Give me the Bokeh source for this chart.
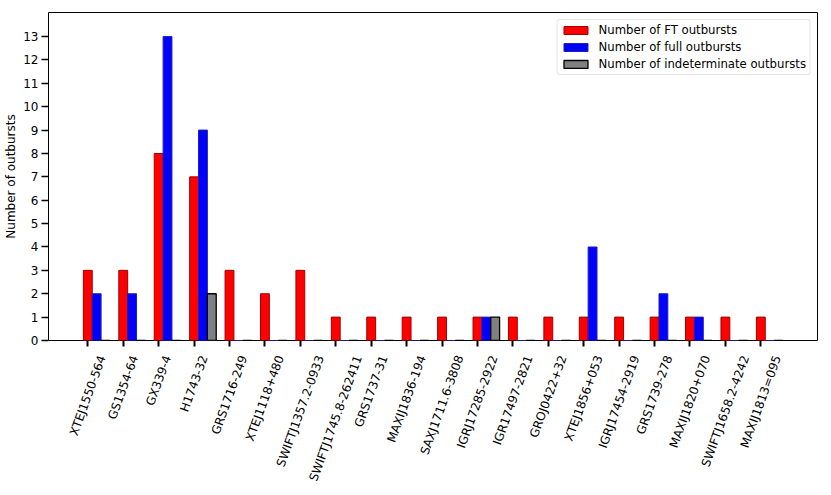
import math
from bokeh.plotting import figure
from bokeh.layouts import column
from bokeh.models import ColumnDataSource, Range1d, FixedTicker
from bokeh.core.properties import value
from bokeh.transform import dodge
from bokeh.embed import file_html
from bokeh.resources import INLINE

sources = ["XTEJ1550-564", "GS1354-64", "GX339-4", "H1743-32", "GRS1716-249",
           "XTEJ1118+480", "SWIFTJ1357.2-0933", "SWIFTJ1745.8-262411", "GRS1737-31",
           "MAXIJ1836-194", "SAXJ1711.6-3808", "IGRJ17285-2922", "IGR17497-2821",
           "GROJ0422+32", "XTEJ1856+053", "IGRJ17454-2919", "GRS1739-278",
           "MAXIJ1820+070", "SWIFTJ1658.2-4242", "MAXIJ1813=095"]
ft_outbursts = [3, 3, 8, 7, 3, 2, 3, 1, 1, 1, 1, 1, 1, 1, 1, 1, 1, 1, 1, 1]
full_outbursts = [2, 2, 13, 9, 0, 0, 0, 0, 0, 0, 0, 1, 0, 0, 4, 0, 2, 1, 0, 0]
indet_outbursts = [0, 0, 0, 2, 0, 0, 0, 0, 0, 0, 0, 1, 0, 0, 0, 0, 0, 0, 0, 0]
y_ticks = list(range(14))

FONT = "DejaVu Sans"
FS = 12.0
ROT = math.radians(70)
W = 823
LEFT, RIGHT = 48, 6
BOT = 8
XR = (-1.11, 20.6)

# approximate DejaVu Sans advance widths (em), used to centre the rotated
# category labels under their ticks the way matplotlib does (ha="center")
_w = {"A": .684, "E": .632, "F": .575, "G": .775, "H": .752, "I": .295, "J": .295,
      "M": .863, "O": .787, "R": .695, "S": .635, "T": .611, "W": .989, "X": .685,
      "-": .361, "+": .838, ".": .318, "=": .838}
def text_len(s):
    return FS * sum(_w.get(c, .636) for c in s)

line_h = 1.164 * FS
offsets = []
for s in sources:
    bbox_h = text_len(s) * math.sin(ROT) + line_h * math.cos(ROT)
    offsets.append(-(13 + bbox_h / 2))

n = len(sources)
src = ColumnDataSource(dict(x=list(range(n)), ft=ft_outbursts,
                            full=full_outbursts, ind=indet_outbursts,
                            name=sources, yoff=offsets))

# ---- main chart
p = figure(width=W, height=12 + 328 + BOT, output_backend="svg", toolbar_location=None,
           x_range=Range1d(*XR), y_range=Range1d(0, 14.03),
           min_border_left=LEFT, min_border_right=RIGHT, min_border_top=12,
           min_border_bottom=BOT)
p.background_fill_color = "white"
p.border_fill_color = "white"
p.grid.visible = False
p.outline_line_color = "black"
p.outline_line_width = 1

bw = 0.25
p.vbar(x=dodge("x", 0.0), top="ft", width=bw, source=src, fill_color="red",
       line_color="#a00000", line_width=1, legend_label="Number of FT outbursts")
p.vbar(x=dodge("x", 0.25), top="full", width=bw, source=src, fill_color="blue",
       line_color="#2020b0", line_width=1, legend_label="Number of full outbursts")
p.vbar(x=dodge("x", 0.5), top="ind", width=bw, source=src, fill_color="gray",
       line_color="black", line_width=1.3, legend_label="Number of indeterminate outbursts")

xa = p.xaxis[0]
xa.ticker = FixedTicker(ticks=list(range(n)))
xa.major_label_overrides = {i: "" for i in range(n)}
xa.major_label_text_font_size = "1px"
xa.major_label_standoff = 0
xa.major_tick_out = 6
xa.major_tick_in = 0
xa.major_tick_line_width = 2
xa.minor_tick_line_color = None
xa.axis_line_color = None

ya = p.yaxis[0]
ya.ticker = FixedTicker(ticks=y_ticks)
ya.major_label_text_font = FONT
ya.major_label_text_font_size = "12px"
ya.major_label_text_color = "black"
ya.major_tick_out = 7
ya.major_tick_in = 0
ya.major_tick_line_width = 1.5
ya.minor_tick_line_color = None
ya.axis_line_color = None
ya.major_label_standoff = 3
ya.axis_label = "Number of outbursts"
ya.axis_label_text_font = FONT
ya.axis_label_text_font_size = "12px"
ya.axis_label_text_font_style = "normal"
ya.axis_label_text_color = "black"
ya.axis_label_standoff = 2

lg = p.legend[0]
lg.location = "top_right"
lg.margin = 7
lg.padding = 3
lg.spacing = 3
lg.label_height = 14
lg.glyph_height = 10
lg.glyph_width = 30
lg.label_standoff = 8
lg.label_text_font = FONT
lg.label_text_font_size = "11.7px"
lg.label_text_color = "black"
lg.border_line_color = "#cccccc"
lg.border_line_width = 1
lg.background_fill_alpha = 0.8
if "border_radius" in lg.properties():
    lg.border_radius = 3

# ---- strip below the chart holding the rotated category labels
H2 = 487 - (12 + 328 + BOT)
p2 = figure(width=W, height=H2, output_backend="svg", toolbar_location=None,
            x_range=p.x_range, y_range=Range1d(-BOT - H2, -BOT),
            x_axis_location=None, y_axis_location=None,
            min_border_left=LEFT, min_border_right=RIGHT, min_border_top=0, min_border_bottom=0)
p2.grid.visible = False
p2.outline_line_color = None
p2.background_fill_color = "white"
p2.border_fill_color = "white"
p2.text(x="x", y="yoff", text="name", source=src, angle=ROT,
        text_align="center", text_baseline="middle",
        text_font=value(FONT), text_font_size=value(f"{FS}px"), text_color="black")

layout = column(p, p2, spacing=0)
open("out.html", "w").write(file_html(layout, INLINE))
